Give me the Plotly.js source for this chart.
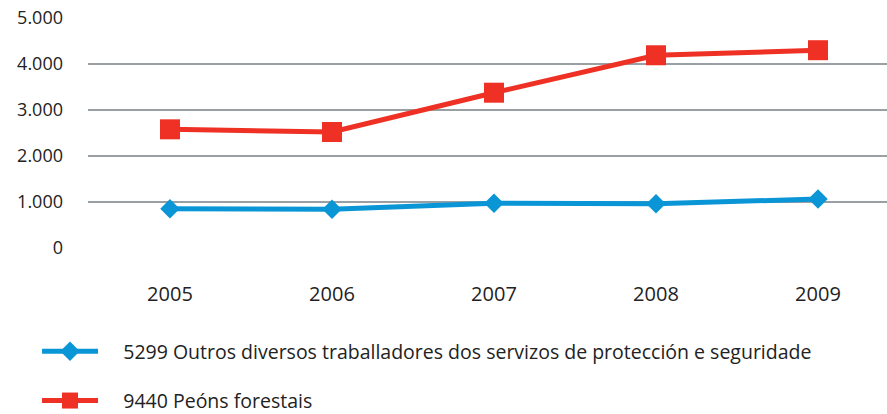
<!DOCTYPE html>
<html><head><meta charset="utf-8">
<script src="https://cdn.plot.ly/plotly-3.0.1.min.js"></script>
<style>html,body{margin:0;padding:0;background:#fff}#chart{width:887px;height:414px}</style>
</head><body><div id="chart"></div>
<script>
var years = ['2005', '2006', '2007', '2008', '2009'];
var seriesNames = ['5299 Outros diversos traballadores dos servizos de protección e seguridade', '9440 Peóns forestais'];
var valuesA = [855, 841, 975, 962, 1065];
var valuesB = [2580, 2522, 3376, 4190, 4300];
var yTicks = [0, 1000, 2000, 3000, 4000, 5000];
var yTickText = ['0', '1.000', '2.000', '3.000', '4.000', '5.000'];

var font = '"Open Sans", Lato, sans-serif';
var pad = '\u00a0\u00a0\u00a0\u00a0';
var traces = [
  {x: years, y: valuesA, name: pad + seriesNames[0], type: 'scatter', mode: 'lines+markers', legendgroup: 'a',
   line: {color: '#0A96D6', width: 5}, marker: {symbol: 'diamond', size: 15, color: '#0A96D6'}},
  {x: years, y: valuesB, name: pad + seriesNames[1], type: 'scatter', mode: 'lines+markers', legendgroup: 'b',
   line: {color: '#EE3124', width: 5}, marker: {symbol: 'square', size: 20, color: '#EE3124'}}
];
var layout = {
  width: 887, height: 414,
  margin: {l: 88, r: 0, t: 18, b: 166, autoexpand: false},
  paper_bgcolor: '#fff', plot_bgcolor: '#fff',
  font: {family: font, size: 18, color: '#222'},
  showlegend: true,
  legend: {x: -0.0638, xanchor: 'left', y: -0.3653, yanchor: 'top', orientation: 'v',
           traceorder: 'grouped', tracegroupgap: 21, itemwidth: 56,
           font: {family: font, size: 19.5, color: '#222'}},
  xaxis: {type: 'category', range: [-0.506, 4.426], showgrid: false, zeroline: false, showline: false,
          ticks: '', ticklabelstandoff: 32, tickfont: {size: 20}},
  yaxis: {range: [0, 5000], tickvals: yTicks, ticktext: yTickText, showgrid: true, gridcolor: '#9a9fa3',
          gridwidth: 1.5, zeroline: false, showline: false, ticks: '', ticklabelstandoff: 24, tickfont: {size: 18}}
};
Plotly.newPlot('chart', traces, layout, {displayModeBar: false, staticPlot: true});
</script></body></html>
